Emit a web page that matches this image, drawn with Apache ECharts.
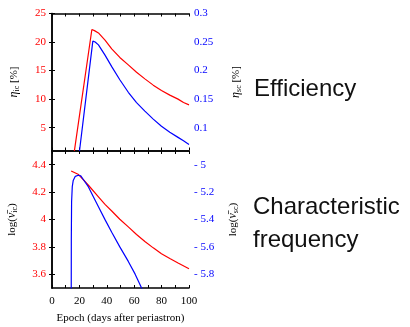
<!DOCTYPE html>
<html>
<head>
<meta charset="utf-8">
<style>html,body{margin:0;padding:0;width:410px;height:327px;background:#fff;overflow:hidden;}#chart{width:410px;height:327px;}</style>
<script src="https://cdn.jsdelivr.net/npm/echarts@6/dist/echarts.min.js"></script>
</head>
<body>
<div id="chart"></div>
<script>
// efficiency panel (top)
var effIcEpoch = [15, 29.1, 31, 33.9, 38.7, 43.6, 49.5, 55.7, 61.7, 67.8, 73.9, 79.9, 86, 92, 96, 100];
var effIcValue = [-1.3, 22.2, 22.0, 21.6, 20.35, 18.8, 17.3, 16.0, 14.7, 13.55, 12.45, 11.5, 10.7, 10.0, 9.4, 9.0];
var effScEpoch = [19, 29.8, 31.5, 33.9, 38.7, 43.6, 49.5, 55.7, 61.7, 67.8, 73.9, 79.9, 86, 92, 96, 100];
var effScValue = [0.038, 0.2517, 0.25, 0.245, 0.227, 0.207, 0.184, 0.162, 0.144, 0.129, 0.115, 0.1025, 0.092, 0.083, 0.077, 0.0706];

// characteristic frequency panel (bottom)
var freqIcEpoch = [14.0, 19.4, 26.6, 33.9, 38.7, 43.6, 49.5, 55.7, 61.7, 67.8, 73.9, 79.9, 86, 92, 100];
var freqIcValue = [4.354, 4.328, 4.25, 4.165, 4.11, 4.062, 4.002, 3.946, 3.891, 3.84, 3.793, 3.75, 3.715, 3.683, 3.641];
var freqScEpoch = [14.0, 14.1, 14.3, 14.8, 15.5, 17, 19.2, 21, 23, 26.6, 30, 33.9, 38.7, 43.6, 49.5, 55.7, 60.6, 65.4, 68];
var freqScValue = [-6.2, -5.55, -5.27, -5.16, -5.115, -5.085, -5.077, -5.082, -5.11, -5.162, -5.23, -5.307, -5.401, -5.493, -5.6, -5.706, -5.797, -5.9, -5.95];

// tick labels
var epochLabels = [0, 20, 40, 60, 80, 100];
var effIcTicks = [5, 10, 15, 20, 25];
var effScTicks = [0.1, 0.15, 0.2, 0.25, 0.3];
var freqIcTicks = [3.6, 3.8, 4, 4.2, 4.4];
var freqScTicks = [-5.8, -5.6, -5.4, -5.2, -5];

var RED = "#ff0000";
var BLUE = "#0000ff";
var SERIF = "Liberation Serif";

function pairs(xs, ys) {
  return xs.map(function (x, i) { return [x, ys[i]]; });
}

function xAx(grid, pos, labels) {
  return {
    type: "value", gridIndex: grid, position: pos, min: 0, max: 100, interval: 10,
    splitLine: { show: false },
    axisLine: { lineStyle: { color: "#000", width: 1.5 } },
    axisTick: { inside: true, length: 3, lineStyle: { color: "#000", width: 1 } },
    axisLabel: {
      show: labels, margin: 8, fontFamily: SERIF, fontSize: 11, color: "#000",
      formatter: function (v) { return epochLabels.indexOf(v) >= 0 ? String(v) : ""; }
    }
  };
}

function yAx(grid, pos, min, max, ticks, color, fmt, name, gap) {
  return {
    type: "value", gridIndex: grid, position: pos, min: min, max: max,
    splitLine: { show: false },
    axisLine: { lineStyle: { color: "#000", width: 1.5 } },
    axisTick: { inside: true, length: 3, customValues: ticks, lineStyle: { color: "#000", width: 1 } },
    axisLabel: {
      customValues: ticks, margin: pos === "left" ? 6 : 5, fontFamily: SERIF, fontSize: 11,
      color: color, formatter: fmt
    },
    name: name, nameLocation: "middle", nameGap: gap, nameRotate: 90,
    nameTextStyle: {
      fontFamily: SERIF, fontSize: 11, color: "#000",
      rich: {
        g: { fontFamily: SERIF, fontSize: 12, fontStyle: "italic", color: "#000" },
        s: { fontFamily: SERIF, fontSize: 8, color: "#000", verticalAlign: "bottom", padding: [6, 0, 0, 0] }
      }
    }
  };
}

function line(data, xi, yi, color) {
  return {
    type: "line", data: data, xAxisIndex: xi, yAxisIndex: yi,
    showSymbol: false, symbol: "none", clip: true, animation: false,
    lineStyle: { color: color, width: 1.2 }
  };
}

var chart = echarts.init(document.getElementById("chart"), null, { renderer: "canvas" });
chart.setOption({
  backgroundColor: "#fff",
  animation: false,
  grid: [
    { left: 52, top: 13.5, width: 137, height: 137, outerBoundsMode: "none" },
    { left: 52, top: 151, width: 137, height: 137, outerBoundsMode: "none" }
  ],
  xAxis: [
    xAx(0, "bottom", false),
    xAx(0, "top", false),
    Object.assign(xAx(1, "bottom", true), {
      name: "Epoch (days after periastron)", nameLocation: "middle", nameGap: 25,
      nameTextStyle: { fontFamily: SERIF, fontSize: 11, color: "#000", verticalAlign: "top" }
    }),
    xAx(1, "top", false)
  ],
  yAxis: [
    yAx(0, "left", 1, 25, effIcTicks, RED, null, "{g|η}{s|ic} [%]", 31),
    yAx(0, "right", 0.06, 0.3, effScTicks, BLUE, null, "{g|η}{s|sc} [%]", 40),
    yAx(1, "left", 3.5, 4.5, freqIcTicks, RED, null, "log({g|ν̄}{s|ic})", 33),
    yAx(1, "right", -5.9, -4.9, freqScTicks, BLUE,
      function (v) { return "- " + String(Math.abs(Math.round(v * 10) / 10)); },
      "log({g|ν̄}{s|sc})", 37)
  ],
  series: [
    line(pairs(effIcEpoch, effIcValue), 0, 0, RED),
    line(pairs(effScEpoch, effScValue), 0, 1, BLUE),
    line(pairs(freqIcEpoch, freqIcValue), 2, 2, RED),
    line(pairs(freqScEpoch, freqScValue), 2, 3, BLUE)
  ],
  graphic: [
    { type: "text", left: 254, top: 77, style: { text: "Efficiency", font: "24px 'Liberation Sans'", fill: "#111" } },
    { type: "text", left: 253, top: 195, style: { text: "Characteristic", font: "24px 'Liberation Sans'", fill: "#111" } },
    { type: "text", left: 253, top: 228, style: { text: "frequency", font: "24px 'Liberation Sans'", fill: "#111" } }
  ]
});
</script>
</body>
</html>
